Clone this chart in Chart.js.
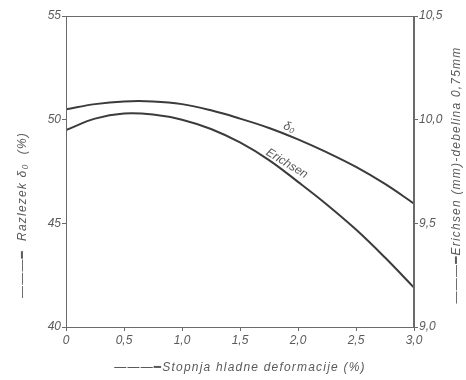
<!DOCTYPE html>
<html>
<head>
<meta charset="utf-8">
<script src="https://cdn.jsdelivr.net/npm/chart.js@4/dist/chart.umd.min.js"></script>
<style>
  html, body { margin: 0; padding: 0; background: #ffffff; }
  #wrap { width: 466px; height: 380px; position: relative; }
</style>
</head>
<body>
<div id="wrap"><canvas id="c"></canvas></div>
<script>
// Degree of cold deformation (%)
const deformation = [0, 0.25, 0.5, 0.75, 1.0, 1.25, 1.5, 1.75, 2.0, 2.25, 2.5, 2.75, 3.0];
// Elongation delta0 (%), left axis
const elongation = [50.5, 50.75, 50.88, 50.88, 50.75, 50.45, 50.05, 49.6, 49.05, 48.42, 47.72, 46.9, 45.95];
// Erichsen depth (mm), sheet thickness 0.75 mm, right axis
const erichsen = [9.95, 10.005, 10.03, 10.025, 10.0, 9.955, 9.89, 9.805, 9.70, 9.59, 9.47, 9.335, 9.19];

const xTickLabels = ['0', '0,5', '1,0', '1,5', '2,0', '2,5', '3,0'];
const leftTickLabels = ['40', '45', '50', '55'];
const rightTickLabels = ['9,0', '9,5', '10,0', '10,5'];

const seriesNames = ['δ₀', 'Erichsen'];
const xTitle = '———━Stopnja hladne deformacije (%)';
const leftTitle = '———━  Razlezek δ₀  (%)';
const rightTitle = '———━Erichsen (mm)-debelina 0,75mm';

const ink = '#3b3b3b';
const textInk = '#5a5a5a';
const fontFam = "'Liberation Sans', 'DejaVu Sans', sans-serif";

const toPts = (ys) => deformation.map((x, i) => ({ x: x, y: ys[i] }));

// box around the plot, curve captions and rotated axis titles
const decor = {
  id: 'decor',
  afterDraw(chart) {
    const ctx = chart.ctx;
    const a = chart.chartArea;
    ctx.save();
    ctx.strokeStyle = '#6a6a6a';
    ctx.lineWidth = 1;
    ctx.strokeRect(a.left + 0.5, a.top + 0.5, a.right - a.left - 1, a.bottom - a.top);

    ctx.fillStyle = textInk;
    ctx.textAlign = 'center';
    ctx.textBaseline = 'middle';

    // captions along the curves
    const captions = [
      { ds: 0, i: 7, off: 8, size: 12, t: 0.6 },
      { ds: 1, i: 7, off: 8, size: 12, t: 0.45 }
    ];
    captions.forEach(c => {
      const pts = chart.getDatasetMeta(c.ds).data;
      const p0 = pts[c.i], p1 = pts[c.i + 1];
      const ang = Math.atan2(p1.y - p0.y, p1.x - p0.x);
      const mx = p0.x + (p1.x - p0.x) * c.t + Math.sin(ang) * c.off;
      const my = p0.y + (p1.y - p0.y) * c.t - Math.cos(ang) * c.off;
      ctx.save();
      ctx.translate(mx, my);
      ctx.rotate(ang * 0.85);
      ctx.font = 'italic ' + c.size + 'px ' + fontFam;
      ctx.fillText(seriesNames[c.ds], 0, 0);
      ctx.restore();
    });

    ctx.font = 'italic 12px ' + fontFam;
    ctx.letterSpacing = '1.2px';
    // x axis title
    ctx.fillText(xTitle, (a.left + a.right) / 2, a.bottom + 41);

    // left title, reading upward
    ctx.save();
    ctx.translate(a.left - 43, a.top + 199);
    ctx.rotate(-Math.PI / 2);
    ctx.fillText(leftTitle, 0, 0);
    ctx.restore();

    // right title, reading upward
    ctx.save();
    ctx.translate(a.right + 43, a.top + 159);
    ctx.rotate(-Math.PI / 2);
    ctx.fillText(rightTitle, 0, 0);
    ctx.restore();
    ctx.restore();
  }
};

const tickFont = { family: fontFam, size: 12, style: 'italic' };

new Chart(document.getElementById('c'), {
  type: 'line',
  data: {
    datasets: [
      {
        label: seriesNames[0],
        data: toPts(elongation),
        yAxisID: 'yL',
        borderColor: ink,
        borderWidth: 2,
        pointRadius: 0,
        tension: 0.4,
        fill: false
      },
      {
        label: seriesNames[1],
        data: toPts(erichsen),
        yAxisID: 'yR',
        borderColor: ink,
        borderWidth: 2,
        pointRadius: 0,
        tension: 0.4,
        fill: false
      }
    ]
  },
  options: {
    responsive: true,
    maintainAspectRatio: false,
    animation: false,
    layout: { padding: { top: 16, left: 0, right: 0, bottom: 0 } },
    plugins: { legend: { display: false }, tooltip: { enabled: false } },
    scales: {
      x: {
        type: 'linear',
        min: 0, max: 3,
        afterFit(s) { s.height = 53; },
        ticks: {
          stepSize: 0.5,
          color: textInk,
          font: tickFont,
          padding: 2,
          maxRotation: 0,
          callback: (v, i) => xTickLabels[i]
        },
        grid: { drawOnChartArea: false, tickLength: 4, color: '#6a6a6a' },
        border: { color: '#6a6a6a' }
      },
      yL: {
        type: 'linear',
        position: 'left',
        min: 40, max: 55,
        afterFit(s) { s.width = 66; },
        ticks: {
          stepSize: 5,
          color: textInk,
          font: tickFont,
          padding: 1,
          callback: (v, i) => leftTickLabels[i]
        },
        grid: { drawOnChartArea: false, tickLength: 4, color: '#6a6a6a' },
        border: { color: '#6a6a6a' }
      },
      yR: {
        type: 'linear',
        position: 'right',
        min: 9.0, max: 10.5,
        afterFit(s) { s.width = 52; },
        ticks: {
          stepSize: 0.5,
          color: textInk,
          font: tickFont,
          padding: 1,
          callback: (v, i) => rightTickLabels[i]
        },
        grid: { drawOnChartArea: false, tickLength: 4, color: '#6a6a6a' },
        border: { color: '#6a6a6a' }
      }
    }
  },
  plugins: [decor]
});
</script>
</body>
</html>
